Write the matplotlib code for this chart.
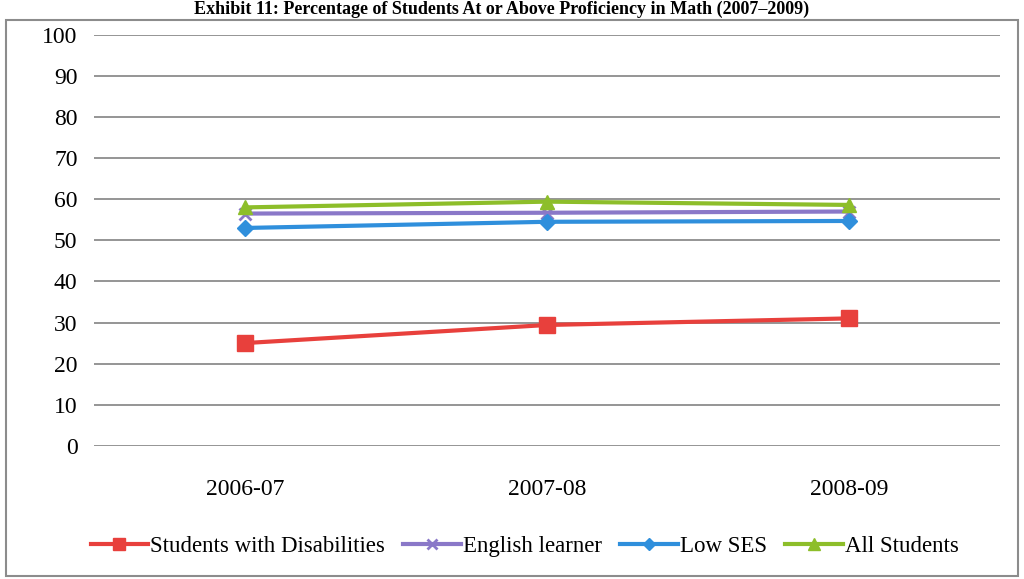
import numpy as np
import matplotlib.pyplot as plt
from matplotlib.patches import Rectangle

plt.rcParams['font.family'] = ['Liberation Serif', 'DejaVu Serif']

years = ['2006-07', '2007-08', '2008-09']
disab = [25, 29.4, 31]
ell = [56.5, 56.7, 57]
low_ses = [53, 54.5, 54.7]
all_st = [58, 59.4, 58.6]
labels = ['Students with Disabilities', 'English learner', 'Low SES', 'All Students']

fig = plt.figure(figsize=(10.24, 5.79), dpi=100)
ax = fig.add_axes([0.092, 0.23, 0.885, 0.71])

x = np.arange(len(years))
ax.plot(x, disab, color='#e8403c', lw=3, marker='s', ms=11, label=labels[0])
ax.plot(x, ell, color='#8a78c8', lw=3, marker='x', ms=9, mew=2, label=labels[1])
ax.plot(x, low_ses, color='#2f8fdc', lw=3, marker='D', ms=8, label=labels[2])
ax.plot(x, all_st, color='#8dbe2a', lw=3, marker='^', ms=10, label=labels[3])

ax.set_xlim(-0.5, 2.5)
ax.set_ylim(0, 100)
ax.set_yticks(range(0, 101, 10))
ax.set_xticks(x)
ax.set_xticklabels(years)
ax.tick_params(axis='both', length=0, labelsize=17)
ax.tick_params(axis='x', pad=24)
ax.tick_params(axis='y', pad=12)
ax.grid(axis='y', color='#8c8c8c', lw=1.3)
ax.set_axisbelow(True)
for s in ax.spines.values():
    s.set_visible(False)

ax.legend(loc='center', bbox_to_anchor=(0.475, -0.245), ncol=4, frameon=False,
          fontsize=16.5, handlelength=2.5, handletextpad=0.1, columnspacing=0.8,
          markerscale=0.8)

# outer chart frame
fig.patches.append(Rectangle((0.006, 0.006), 0.988, 0.96, transform=fig.transFigure,
                             fill=False, ec='#8c8c8c', lw=1.5))
# title above the frame
fig.text(0.49, 0.999, 'Exhibit 11: Percentage of Students At or Above Proficiency in Math (2007\u20132009)',
         ha='center', va='top', fontsize=13, fontweight='bold')

fig.savefig('out.png', dpi=100)
